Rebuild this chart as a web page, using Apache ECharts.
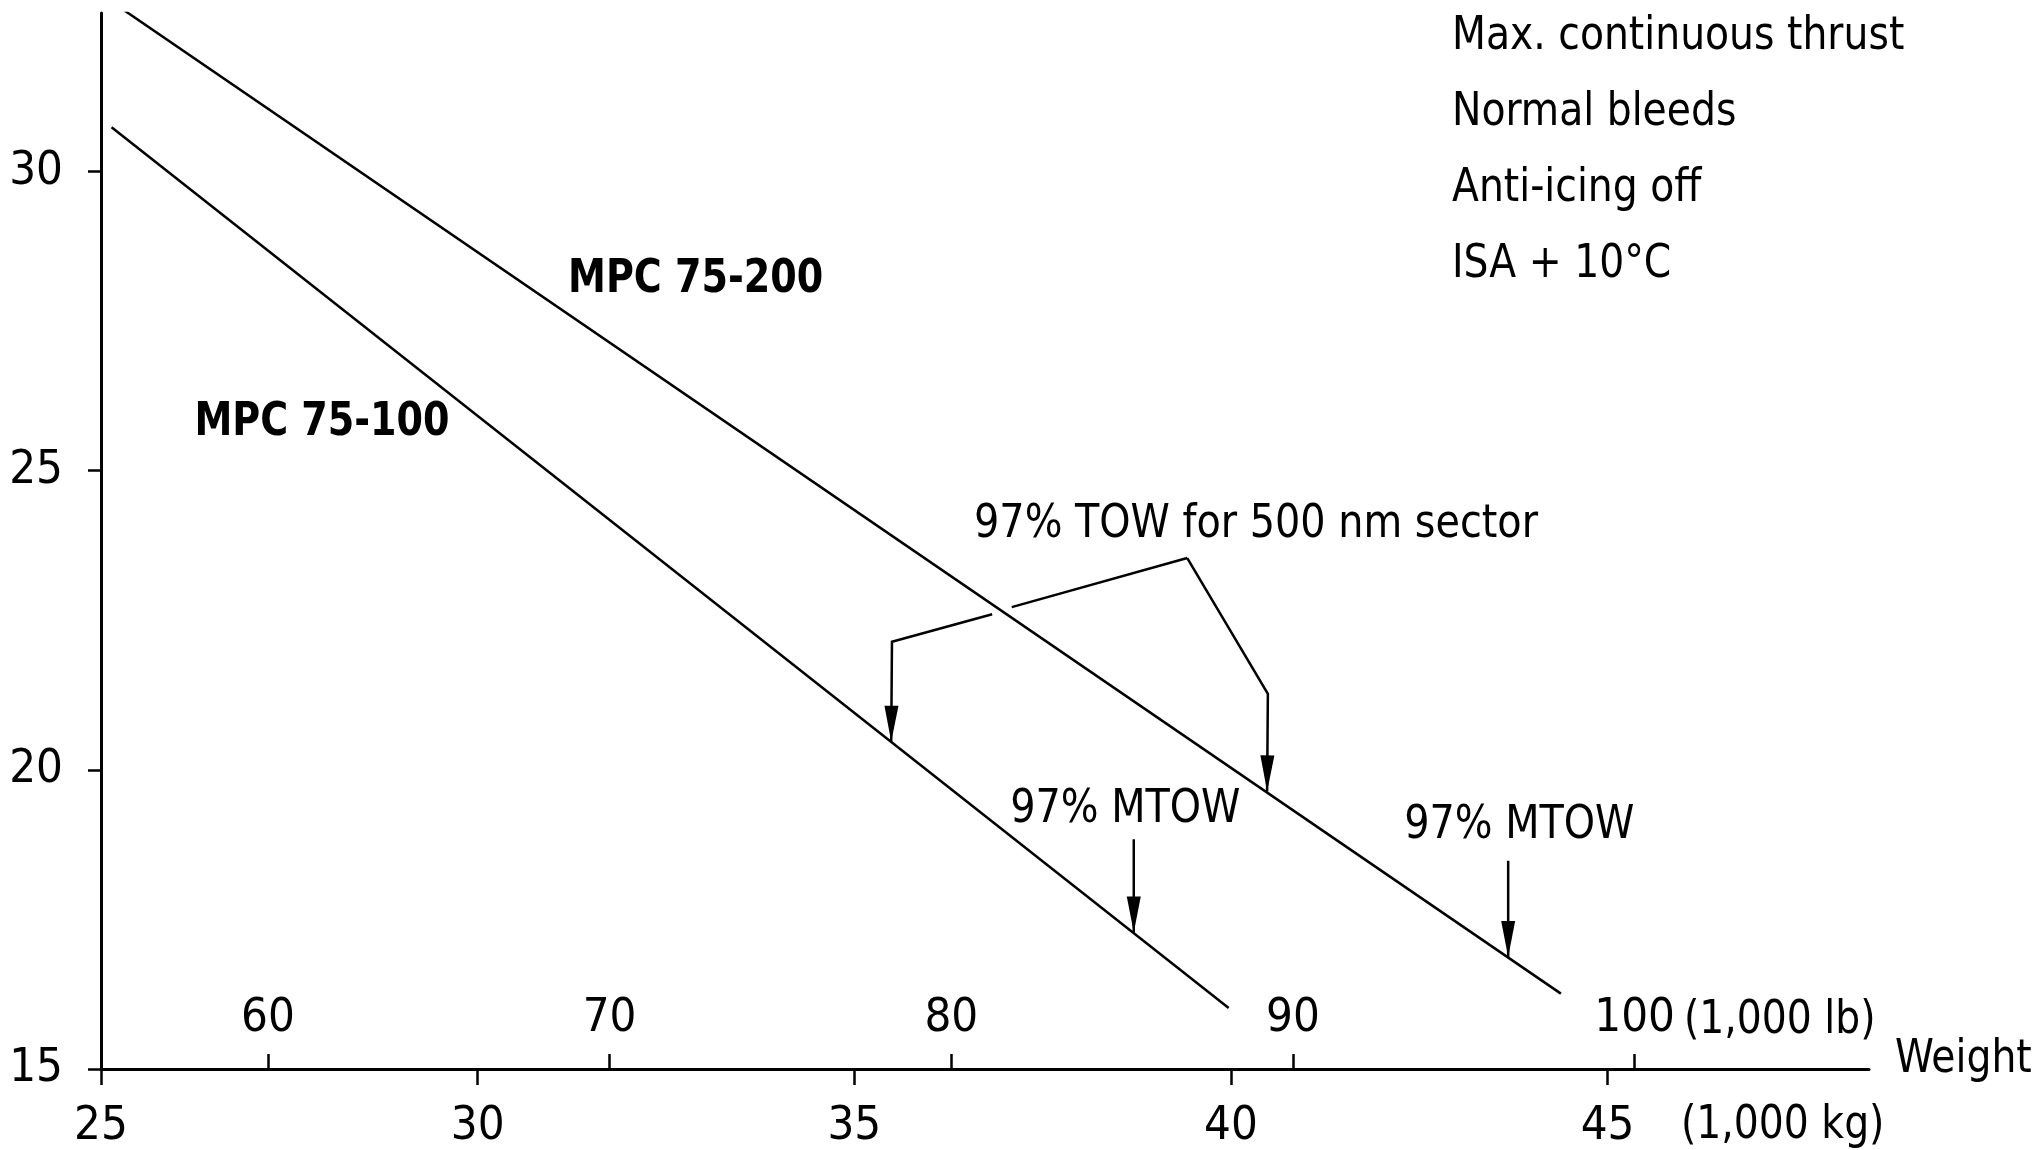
<!DOCTYPE html>
<html>
<head>
    <meta charset="utf-8">
    <title>Max. continuous thrust</title>
    <script src="https://cdn.jsdelivr.net/npm/echarts@6/dist/echarts.min.js"></script>
    <style>
        html, body {margin: 0; padding: 0; background: #fff;}
        #main {width: 2039px; height: 1150px;}
    </style>
</head>
<body>
<div id="main"></div>
<script type="text/javascript">
    // weight in 1,000 kg, value on y
    var kgTicks = [25, 30, 35, 40, 45];
    var lbTicks = [60, 70, 80, 90, 100];
    var yTicks = [15, 20, 25, 30];
    var mpc100 = [[25.14, 30.74], [39.97, 16.02]];
    var mpc200 = [[25.29, 32.71], [44.38, 16.26]];

    // leader lines (data units), arrowhead on last point
    var arrowLeaders = [
        [[36.83, 22.60], [35.50, 22.14], [35.49, 20.47]],
        [[39.42, 23.54], [40.49, 21.27], [40.48, 19.64]],
        [[38.71, 18.84], [38.71, 17.28]],
        [[43.68, 18.48], [43.68, 16.87]]
    ];
    var plainLeaders = [
        [[37.09, 22.72], [39.42, 23.54]]
    ];

    var seriesTags = ['MPC 75-100', 'MPC 75-200'];
    var seriesTagAt = [[26.24, 25.80], [31.20, 28.19]];
    var notes = ['97% TOW for 500 nm sector', '97% MTOW', '97% MTOW'];
    var noteAt = [[36.59, 24.10], [37.07, 19.34], [42.30, 19.06]];
    var conditions = ['Max. continuous thrust', 'Normal bleeds', 'Anti-icing off', 'ISA + 10°C'];

    var LB = 0.45359237;
    var FONT = '"Liberation Sans Narrow", "DejaVu Sans Condensed", "Roboto Condensed", sans-serif';
    var FS = 47;

    var dom = document.getElementById('main');
    var myChart = echarts.init(dom, null, {renderer: 'canvas'});

    function arrowHead(pts) {
        var a = pts[pts.length - 2], b = pts[pts.length - 1];
        var dx = b[0] - a[0], dy = b[1] - a[1];
        var len = Math.sqrt(dx * dx + dy * dy);
        dx /= len; dy /= len;
        var L = 36, W = 7;
        var bx = b[0] - dx * L, by = b[1] - dy * L;
        return [b, [bx - dy * W, by + dx * W], [bx + dy * W, by - dx * W]];
    }

    function leaderItem(list, withArrow) {
        return function (params, api) {
            var pts = list[params.dataIndex].map(function (p) { return api.coord(p); });
            var children = [{
                type: 'polyline',
                shape: {points: pts},
                style: {stroke: '#000', lineWidth: 2.5, fill: null}
            }];
            if (withArrow) {
                children.push({type: 'polygon', shape: {points: arrowHead(pts)}, style: {fill: '#000'}});
            }
            return {type: 'group', children: children};
        };
    }

    function textItem(texts, anchors, weight, sx) {
        return function (params, api) {
            var p = api.coord(anchors[params.dataIndex]);
            return {
                type: 'text', x: p[0], y: p[1], scaleX: sx,
                style: {
                    text: texts[params.dataIndex], fill: '#000',
                    font: weight + ' ' + FS + 'px ' + FONT,
                    align: 'left', verticalAlign: 'middle'
                }
            };
        };
    }

    function firstPoints(list) {
        return list.map(function (l) { return l[0]; });
    }

    function label(t, x, y) {
        return {
            type: 'text', x: x, y: y, scaleX: 0.93,
            style: {text: t, fill: '#000', font: FS + 'px ' + FONT, align: 'left', verticalAlign: 'middle'}
        };
    }

    var axisText = {color: '#000', fontSize: FS, fontFamily: FONT};

    var graphic = conditions.map(function (t, i) {
        return label(t, 1452, 37 + i * 76);
    });
    graphic.push(label('Weight', 1895, 1060));
    graphic.push(label('(1,000 lb)', 1684, 1021));
    graphic.push(label('(1,000 kg)', 1681, 1126));

    var option = {
        backgroundColor: '#fff',
        animation: false,
        grid: {left: 101, right: 170, top: 13, bottom: 76, containLabel: false},
        xAxis: [
            {
                type: 'value', min: 25, max: 48.47, position: 'bottom',
                axisLine: {lineStyle: {color: '#000', width: 3}},
                axisTick: {customValues: kgTicks, length: 16, lineStyle: {color: '#000', width: 2.5}},
                axisLabel: Object.assign({customValues: kgTicks, margin: 34}, axisText),
                splitLine: {show: false}
            },
            {
                type: 'value', min: 25, max: 48.47, position: 'bottom',
                axisLine: {show: false},
                axisTick: {
                    inside: true, length: 15, lineStyle: {color: '#000', width: 2.5},
                    customValues: lbTicks.map(function (v) { return v * LB; })
                },
                axisLabel: Object.assign({
                    inside: true, margin: 27,
                    customValues: lbTicks.map(function (v) { return v * LB; }),
                    formatter: function (v) { return Math.round(v / LB); }
                }, axisText),
                splitLine: {show: false}
            }
        ],
        yAxis: {
            type: 'value', min: 15, max: 32.65,
            axisLine: {show: true, lineStyle: {color: '#000', width: 3}},
            axisTick: {show: true, customValues: yTicks, length: 13, lineStyle: {color: '#000', width: 2.5}},
            axisLabel: Object.assign({customValues: yTicks, margin: 38}, axisText),
            splitLine: {show: false}
        },
        graphic: graphic,
        series: [
            {
                name: seriesTags[0], type: 'line', data: mpc100, showSymbol: false,
                lineStyle: {color: '#000', width: 2.5}
            },
            {
                name: seriesTags[1], type: 'line', data: mpc200, showSymbol: false,
                lineStyle: {color: '#000', width: 2.5}
            },
            {
                type: 'custom', clip: false, silent: true,
                data: firstPoints(arrowLeaders),
                renderItem: leaderItem(arrowLeaders, true)
            },
            {
                type: 'custom', clip: false, silent: true,
                data: firstPoints(plainLeaders),
                renderItem: leaderItem(plainLeaders, false)
            },
            {
                type: 'custom', clip: false, silent: true,
                data: seriesTagAt,
                renderItem: textItem(seriesTags, seriesTagAt, 'bold', 0.9)
            },
            {
                type: 'custom', clip: false, silent: true,
                data: noteAt,
                renderItem: textItem(notes, noteAt, 'normal', 0.94)
            }
        ]
    };

    myChart.setOption(option);
    window.addEventListener('resize', myChart.resize);
</script>
</body>
</html>
